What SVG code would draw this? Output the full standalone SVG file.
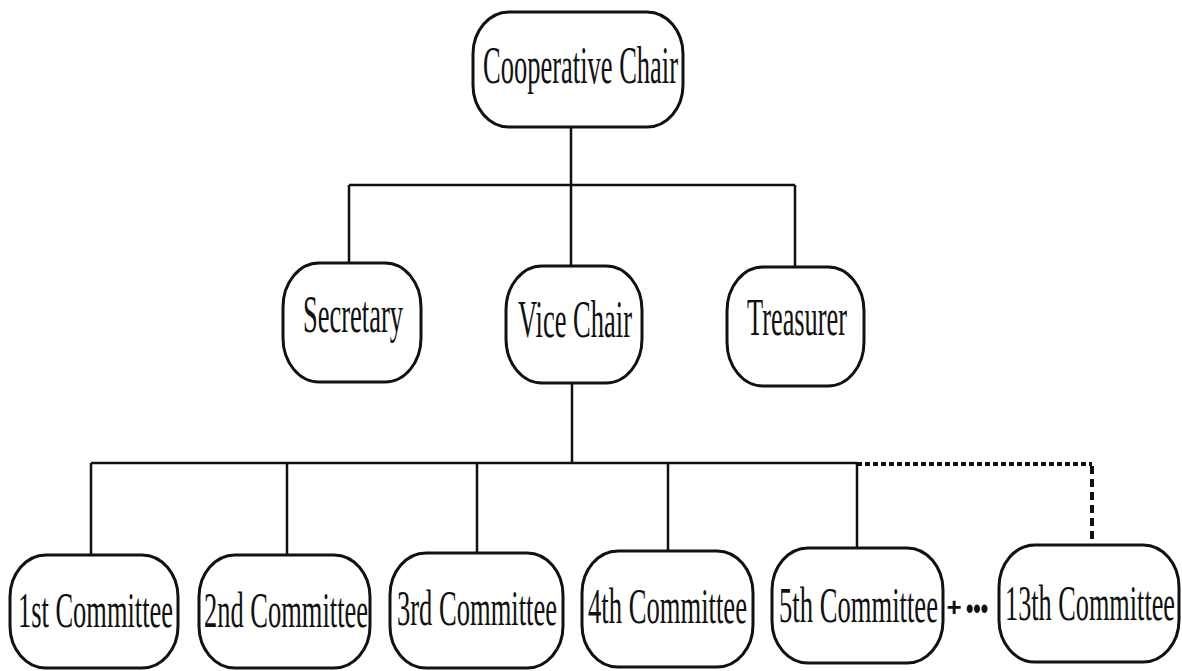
<svg xmlns="http://www.w3.org/2000/svg" width="1182" height="671" viewBox="0 0 1182 671">
  <style>
    .box { fill: #ffffff; stroke: #111111; stroke-width: 3; }
    .lbl { font-family: "Liberation Serif", "Times New Roman", serif; font-size: 52px; fill: #111111; }
    .small { font-size: 50px; }
    .wire { fill: none; stroke: #111111; stroke-width: 2.5; }
    .dots { fill: none; stroke: #111111; stroke-width: 4; stroke-dasharray: 5 3; }
    .dash { fill: none; stroke: #111111; stroke-width: 4; stroke-dasharray: 8 5; }
    .sym { font-family: "Liberation Sans", Arial, sans-serif; font-weight: bold; fill: #111111; }
  </style>
  <rect width="1182" height="671" fill="#ffffff"/>

  <!-- connectors -->
  <g id="connectors">
    <path class="wire" d="M571 127 V185 M349 185 H795 M349 185 V263 M571 185 V266 M795 185 V267"/>
    <path class="wire" d="M572 383 V463 M91 463 H857 M91 463 V555 M287 463 V555 M477 463 V553 M668 463 V551 M857 463 V548"/>
    <path class="dots" d="M857 464 H1092"/>
    <path class="dash" d="M1092 466 V545"/>
  </g>

  <g id="chair">
    <rect class="box" x="473" y="12" width="210" height="115" rx="36" ry="42"/>
    <text class="lbl" x="483" y="83" textLength="195" lengthAdjust="spacingAndGlyphs">Cooperative Chair</text>
  </g>

  <g id="secretary">
    <rect class="box" x="283" y="263" width="138" height="119" rx="36" ry="44"/>
    <text class="lbl" x="303" y="332" textLength="100" lengthAdjust="spacingAndGlyphs">Secretary</text>
  </g>

  <g id="vice-chair">
    <rect class="box" x="506" y="266" width="136" height="117" rx="36" ry="44"/>
    <text class="lbl" x="518" y="337" textLength="114" lengthAdjust="spacingAndGlyphs">Vice Chair</text>
  </g>

  <g id="treasurer">
    <rect class="box" x="727" y="267" width="137" height="119" rx="36" ry="44"/>
    <text class="lbl" x="747" y="335" textLength="100" lengthAdjust="spacingAndGlyphs">Treasurer</text>
  </g>

  <g id="committee-1">
    <rect class="box" x="10" y="555" width="168" height="113" rx="36" ry="42"/>
    <text class="lbl small" x="18" y="627" textLength="155" lengthAdjust="spacingAndGlyphs">1st Committee</text>
  </g>

  <g id="committee-2">
    <rect class="box" x="199" y="555" width="171" height="113" rx="36" ry="42"/>
    <text class="lbl small" x="204" y="627" textLength="164" lengthAdjust="spacingAndGlyphs">2nd Committee</text>
  </g>

  <g id="committee-3">
    <rect class="box" x="390" y="553" width="173" height="115" rx="36" ry="42"/>
    <text class="lbl small" x="397" y="625" textLength="160" lengthAdjust="spacingAndGlyphs">3rd Committee</text>
  </g>

  <g id="committee-4">
    <rect class="box" x="582" y="551" width="171" height="116" rx="36" ry="42"/>
    <text class="lbl small" x="588" y="623" textLength="159" lengthAdjust="spacingAndGlyphs">4th Committee</text>
  </g>

  <g id="committee-5">
    <rect class="box" x="772" y="548" width="171" height="115" rx="36" ry="42"/>
    <text class="lbl small" x="779" y="622" textLength="159" lengthAdjust="spacingAndGlyphs">5th Committee</text>
  </g>

  <g id="ellipsis">
    <text class="sym" x="954" y="616" font-size="26" text-anchor="middle">+</text>
    <text class="sym" x="977" y="619" font-size="30" text-anchor="middle" textLength="22" lengthAdjust="spacingAndGlyphs">•••</text>
  </g>

  <g id="committee-13">
    <rect class="box" x="999" y="545" width="180" height="117" rx="36" ry="42"/>
    <text class="lbl small" x="1005" y="620" textLength="170" lengthAdjust="spacingAndGlyphs">13th Committee</text>
  </g>
</svg>
